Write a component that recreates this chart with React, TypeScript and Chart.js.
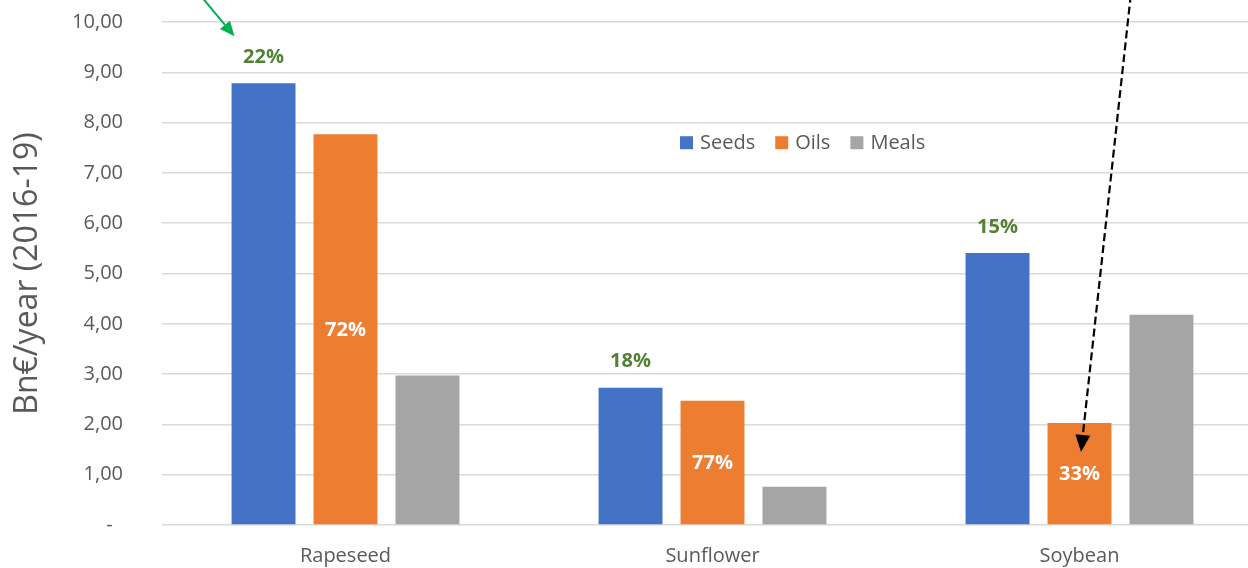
import React, { useEffect, useRef } from "react";
import { Chart, registerables } from "chart.js";

Chart.register(...registerables);

const categories = ["Rapeseed", "Sunflower", "Soybean"];
const seriesNames = ["Seeds", "Oils", "Meals"];
const seeds = [8.78, 2.73, 5.41];
const oils = [7.77, 2.47, 2.03];
const meals = [2.97, 0.76, 4.18];
const seedShares = ["22%", "18%", "15%"];
const oilShares = ["72%", "77%", "33%"];
const seriesColors = ["#4472C4", "#ED7D31", "#A5A5A5"];
const yTickValues = [0, 1, 2, 3, 4, 5, 6, 7, 8, 9, 10];
const yTitle = "Bn€/year (2016-19)";

const FONT = '"Open Sans", "Liberation Sans", sans-serif';
const GREY_TEXT = "#595959";

function drawArrow(
  ctx: CanvasRenderingContext2D,
  sx: number,
  sy: number,
  tx: number,
  ty: number,
  color: string,
  width: number,
  headLen: number,
  headW: number,
  dash: number[]
) {
  const ang = Math.atan2(ty - sy, tx - sx);
  const bx = tx - headLen * Math.cos(ang);
  const by = ty - headLen * Math.sin(ang);
  ctx.save();
  ctx.strokeStyle = color;
  ctx.fillStyle = color;
  ctx.lineWidth = width;
  ctx.setLineDash(dash);
  ctx.beginPath();
  ctx.moveTo(sx, sy);
  ctx.lineTo(bx, by);
  ctx.stroke();
  ctx.setLineDash([]);
  const px = -Math.sin(ang) * (headW / 2);
  const py = Math.cos(ang) * (headW / 2);
  ctx.beginPath();
  ctx.moveTo(tx, ty);
  ctx.lineTo(bx + px, by + py);
  ctx.lineTo(bx - px, by - py);
  ctx.closePath();
  ctx.fill();
  ctx.restore();
}

const annotations = {
  id: "annotations",
  afterDatasetsDraw(chart: any) {
    const ctx: CanvasRenderingContext2D = chart.ctx;
    const area = chart.chartArea;
    const metaS = chart.getDatasetMeta(0);
    const metaO = chart.getDatasetMeta(1);
    ctx.save();
    ctx.textAlign = "center";
    ctx.textBaseline = "middle";
    ctx.font = `bold 20px ${FONT}`;
    metaS.data.forEach((bar: any, i: number) => {
      ctx.fillStyle = "#538135";
      ctx.fillText(seedShares[i], bar.x, bar.y - 26);
    });
    metaO.data.forEach((bar: any, i: number) => {
      ctx.fillStyle = "#FFFFFF";
      ctx.fillText(oilShares[i], bar.x, (bar.y + bar.base) / 2 + 1);
    });

    // legend inside plot area
    ctx.font = `20px ${FONT}`;
    ctx.textAlign = "left";
    let lx = area.left + (area.right - area.left) * 0.4705;
    const ly = area.top + (area.bottom - area.top) * 0.24;
    seriesNames.forEach((name, i) => {
      ctx.fillStyle = seriesColors[i];
      ctx.fillRect(lx, ly - 6.5, 13, 13);
      lx += 20;
      ctx.fillStyle = GREY_TEXT;
      ctx.fillText(name, lx, ly + 1);
      lx += ctx.measureText(name).width + 20;
    });

    // green arrow pointing to Rapeseed seeds share
    const b0 = metaS.data[0];
    const gtx = b0.x - 29;
    const gty = b0.y - 47;
    drawArrow(ctx, gtx - 45, gty - 54, gtx, gty, "#00B050", 2, 15, 13, []);

    // black dashed arrow pointing to Soybean oils bar
    const b2 = metaO.data[2];
    const ktx = b2.x + 1.5;
    const kty = b2.y + 29;
    drawArrow(ctx, ktx + 55, kty - 505, ktx, kty, "#000000", 2.2, 17, 15, [8, 4]);
    ctx.restore();
  },
};

export default function App() {
  const ref = useRef<HTMLCanvasElement | null>(null);
  useEffect(() => {
    if (!ref.current) return;
    const chart = new Chart(ref.current, {
      type: "bar",
      data: {
        labels: categories,
        datasets: [
          { label: seriesNames[0], data: seeds, backgroundColor: seriesColors[0] },
          { label: seriesNames[1], data: oils, backgroundColor: seriesColors[1] },
          { label: seriesNames[2], data: meals, backgroundColor: seriesColors[2] },
        ],
      },
      options: {
        animation: false,
        responsive: false,
        devicePixelRatio: 1,
        datasets: { bar: { categoryPercentage: 0.67, barPercentage: 0.78 } },
        layout: { padding: { top: 22, right: 0, bottom: 0, left: 0 } },
        plugins: { legend: { display: false }, tooltip: { enabled: false } },
        scales: {
          x: {
            grid: { display: false, drawTicks: false },
            border: { display: false },
            afterFit: (scale: any) => {
              scale.height = 43;
            },
            ticks: { font: { family: FONT, size: 20 }, color: GREY_TEXT, padding: 19 },
          },
          y: {
            min: 0,
            max: 10,
            afterBuildTicks: (scale: any) => {
              scale.ticks = yTickValues.map((v) => ({ value: v }));
            },
            afterFit: (scale: any) => {
              scale.width = 162;
              scale.paddingTop = 12;
              scale.paddingBottom = 12;
            },
            grid: { color: "#D9D9D9", lineWidth: 1.5, drawTicks: false },
            border: { display: false },
            ticks: {
              font: { family: FONT, size: 20 },
              color: GREY_TEXT,
              padding: 39,
              callback: (v: any) =>
                Number(v) === 0 ? "-  " : Number(v).toFixed(2).replace(".", ","),
            },
            title: {
              display: true,
              text: yTitle,
              font: { family: FONT, size: 32 },
              color: GREY_TEXT,
              padding: { top: 9, bottom: 0 },
            },
          },
        },
      },
      plugins: [annotations],
    });
    return () => chart.destroy();
  }, []);
  return (
    <div style={{ position: "fixed", left: 0, top: 0, width: 1263, height: 568, background: "#fff" }}>
      <canvas ref={ref} width={1263} height={568} style={{ display: "block" }} />
    </div>
  );
}
